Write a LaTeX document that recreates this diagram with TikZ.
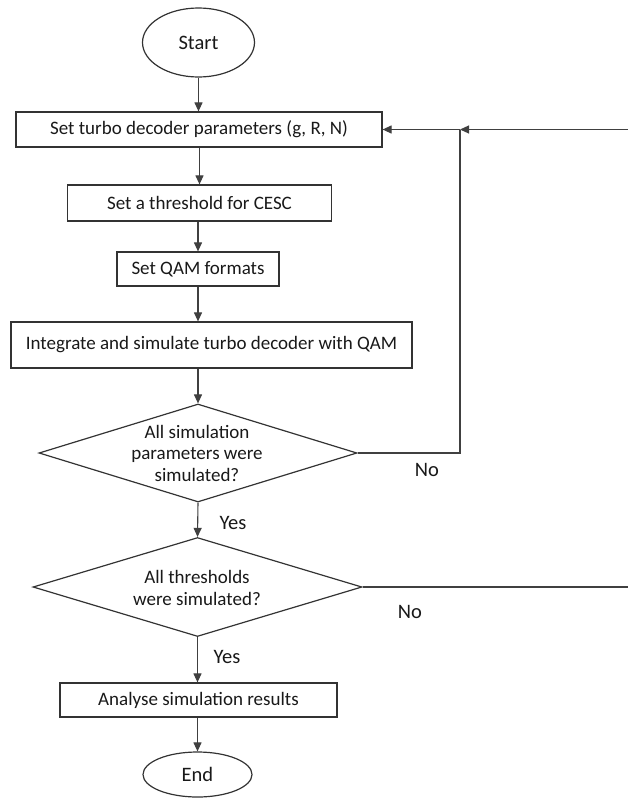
\documentclass[tikz,border=0pt]{standalone}
\usepackage{fontspec}
\setmainfont{Carlito}
\usetikzlibrary{shapes.geometric,arrows.meta}
\begin{document}
\begin{tikzpicture}[x=1pt,y={(0pt,-1pt)},
  every node/.style={font=\fontsize{19}{21.5}\selectfont, text=black!90},
  bigtext/.style={font=\fontsize{20.5}{22}\selectfont},
  boxnode/.style={draw=black!80, line width=1.2pt, rectangle, inner sep=0pt},
  termnode/.style={draw=black!80, line width=1.2pt, ellipse, inner sep=0pt},
  decnode/.style={draw=black!80, line width=1.2pt, diamond, inner sep=0pt},
  conn/.style={draw=black!75, line width=1.1pt},
  arr/.style={conn, -{Triangle[length=9pt,width=8pt]}}]
\useasboundingbox (0,0) rectangle (628,798);
\fill[white] (0,0) rectangle (628,798);

\node[termnode, bigtext, minimum width=112pt, minimum height=69pt] (start) at (198.5,42.5) {Start};
\node[boxnode, minimum width=366pt, minimum height=35pt] (b1) at (199,129.5) {Set turbo decoder parameters (g, R, N)};
\node[boxnode, minimum width=264pt, minimum height=36pt] (b2) at (199.5,203) {Set a threshold for CESC};
\node[boxnode, minimum width=162pt, minimum height=34pt] (b3) at (198,269) {Set QAM formats};
\node[boxnode, minimum width=401pt, minimum height=46pt] (b4) at (211.5,345) {Integrate and simulate turbo decoder with QAM};
\node[decnode, minimum width=318pt, minimum height=98pt] (d1) at (198,453) {};
\node[align=center] (t1) at (197,453) {All simulation\\parameters were\\simulated?};
\node[decnode, minimum width=329pt, minimum height=99pt] (d2) at (197.5,587) {};
\node[align=center] (t2) at (197,588) {All thresholds\\were simulated?};
\node[boxnode, minimum width=277pt, minimum height=34pt] (b5) at (198.5,700) {Analyse simulation results};
\node[termnode, bigtext, minimum width=109pt, minimum height=45pt] (end) at (197.5,774.5) {End};

\node[bigtext] (yes1) at (233,523) {Yes};
\node[bigtext] (yes2) at (227,657) {Yes};
\node[bigtext] (no1) at (427,470) {No};
\node[bigtext] (no2) at (410,612) {No};

\coordinate (j) at (460,129.5);
\coordinate (r1) at (628,129.5);
\coordinate (r2) at (628,587);

\draw[arr] (start) -- (start |- b1.north);
\draw[arr] (b1.south -| b2.north) -- (b2.north);
\draw[arr] (b2.south -| b3.north) -- (b3.north);
\draw[arr] (b3.south) -- (b3.south |- b4.north);
\draw[arr] (b4.south -| d1.north) -- (d1.north);
\draw[arr] (d1.south) -- (d2.north);
\draw[arr] (d2.south) -- (d2.south |- b5.north);
\draw[arr] (b5.south -| end.north) -- (end.north);
\draw[conn] (d1.east) -| (j);
\draw[arr] (j) -- (b1.east);
\draw[arr] (r1) -- (j);
\draw[conn] (d2.east) -- (r2);
\end{tikzpicture}
\end{document}
